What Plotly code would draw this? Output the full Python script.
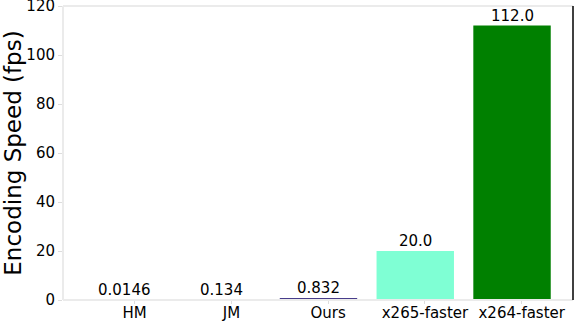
import plotly.graph_objects as go

categories = ["HM", "JM", "Ours", "x265-faster", "x264-faster"]
speeds = [0.0146, 0.134, 0.832, 20.0, 112.0]
labels = ["0.0146", "0.134", "0.832", "20.0", "112.0"]
colors = ["#1f77b4", "#ff7f0e", "#483D8B", "#7FFFD4", "#008000"]
y_ticks = [0, 20, 40, 60, 80, 100, 120]

pos = list(range(len(categories)))
tick_pos = [p + 0.1 for p in pos]

fig = go.Figure()
fig.add_trace(go.Bar(x=pos, y=speeds, width=0.8, marker=dict(color=colors, line=dict(width=0)),
                     hoverinfo="skip"))

for p, v, t in zip(pos, speeds, labels):
    fig.add_annotation(x=p, y=v, text=t, showarrow=False, yanchor="bottom", yshift=-1,
                       font=dict(family="DejaVu Sans", size=15, color="black"))

fig.update_layout(
    width=576, height=322,
    margin=dict(l=63, r=3, t=6, b=22, autoexpand=False),
    plot_bgcolor="white", paper_bgcolor="white",
    showlegend=False,
    font=dict(family="DejaVu Sans", size=15, color="black"),
    xaxis=dict(range=[-0.64, 4.63], tickmode="array", tickvals=tick_pos, ticktext=categories,
               showgrid=False, zeroline=False, showline=False, automargin=False,
               ticks="outside", ticklen=3, tickcolor="#dddddd", tickfont=dict(size=15),
               ticklabelstandoff=-4, ticklabeloverflow="allow"),
    yaxis=dict(range=[0, 120.01], tickmode="array", tickvals=y_ticks,
               showgrid=False, zeroline=False, showline=False, automargin=False,
               ticks="outside", ticklen=4, tickcolor="#dddddd", tickfont=dict(size=15),
               ticklabeloverflow="allow",
               title=dict(text="Encoding Speed (fps)", font=dict(size=23), standoff=7)),
    shapes=[
        dict(type="line", xref="paper", yref="paper", x0=0, x1=0, y0=0, y1=1,
             line=dict(color="#ebebeb", width=2)),
        dict(type="line", xref="paper", yref="paper", x0=0, x1=1, y0=0, y1=0,
             line=dict(color="#ebebeb", width=2)),
        dict(type="line", xref="paper", yref="paper", x0=0, x1=1, y0=1, y1=1,
             line=dict(color="#ebebeb", width=2)),
        dict(type="line", xref="paper", yref="paper", x0=1, x1=1, y0=0, y1=1,
             line=dict(color="black", width=1.5)),
    ],
)

fig.write_html("out.html", config={"displayModeBar": False},
               post_script="document.body.style.margin='0';document.body.style.overflow='hidden';")
